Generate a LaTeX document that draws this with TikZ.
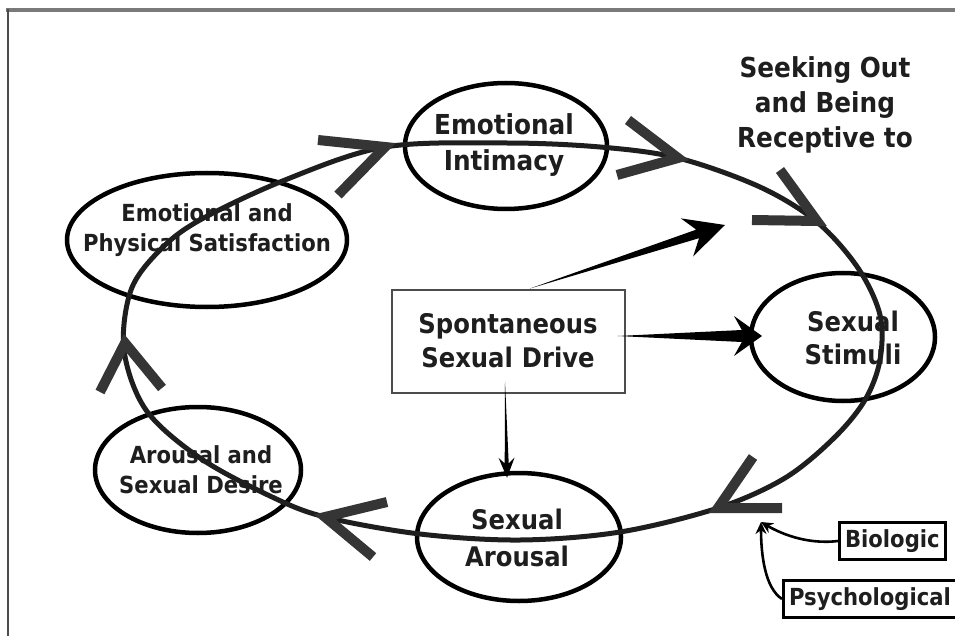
\documentclass[tikz,border=0pt]{standalone}
\usepackage{fontspec}
\setmainfont{DejaVuSansCondensed}[Extension=.ttf,BoldFont=DejaVuSansCondensed-Bold]
\usetikzlibrary{shapes.geometric,calc,arrows.meta}
\definecolor{ink}{HTML}{1E1E1E}
\definecolor{chevc}{HTML}{353535}
\definecolor{framec}{HTML}{7A7A7A}
\tikzset{
  oval/.style={ellipse,draw=black,line width=4.5,inner sep=0},
  lbl/.style 2 args={align=center,text=ink,font=\bfseries\fontsize{#1}{#2}\selectfont,inner sep=0},
  chev/.style={draw=chevc,line width=10,line cap=butt,line join=miter},
  wedge/.style={fill=black},
  factor/.style={draw=black,line width=3.2,inner xsep=5.5,inner ysep=7,anchor=west,text=ink,font=\bfseries\fontsize{23.5}{28}\selectfont},
  thinarr/.style={draw=black,line width=2.6,-{Stealth[length=12,width=11]}}
}
\newcommand\wedgearr[5]{%
  \fill[wedge] (#1) -- ($(#2)!0.72*#3!(#1)!#5!90:(#1)$) -- ($(#2)!#3!(#1)!#4!90:(#1)$) -- (#2)
   -- ($(#2)!#3!(#1)!#4!-90:(#1)$) -- ($(#2)!0.72*#3!(#1)!#5!-90:(#1)$) -- cycle;}
\begin{document}
\begin{tikzpicture}[x=1pt,y=-1pt]
\useasboundingbox (0,0) rectangle (955,636);
\fill[white] (0,0) rectangle (955,636);
% frame
\draw[framec,line width=4] (6,10) -- (955,10);
\draw[black!70,line width=2.5] (8,9) -- (8,636);

% ovals
\node[oval,minimum width=202,minimum height=126] (intimacy) at (506,146) {};
\node[oval,minimum width=280,minimum height=134] (satisf) at (207,240) {};
\node[oval,minimum width=184,minimum height=128] (stimuli) at (843,337) {};
\node[oval,minimum width=204,minimum height=128] (arousal) at (519,537) {};
\node[oval,minimum width=206,minimum height=126] (desire) at (198,470) {};

\node[lbl={27.5}{36}] (intimacyT) at (504,145) {Emotional\\Intimacy};
\node[lbl={23.5}{30}] (satisfT) at (207,230) {Emotional and\\Physical Satisfaction};
\node[lbl={27}{33}] (stimuliT) at (853,338) {Sexual\\Stimuli};
\node[lbl={27}{37}] (arousalT) at (517,538) {Sexual\\Arousal};
\node[lbl={23.5}{30}] (desireT) at (201,470) {Arousal and\\Sexual Desire};
\node[lbl={27.5}{35}] (seek) at (825,105) {Seeking Out\\and Being\\Receptive to};

% central box
\node[draw=black!70,line width=2,minimum width=233,minimum height=103,lbl={27}{34},text width=228] (drive) at (508,341) {Spontaneous\\Sexual Drive};

% factor boxes
\node[factor] (bio) at (838,541) {Biologic};
\node[factor] (psy) at (782,599) {Psychological};

% main cycle
\draw[ink,line width=5] plot[smooth cycle,tension=0.55] coordinates {
 (506,143) (600,147) (678,158) (760,187) (817,222) (858,268) (880,315) (880,360)
 (865,400) (834,438) (785,478) (718,508) (620,532) (520,540) (420,534) (325,517)
 (270,496) (200,458) (146,410) (124,350) (131,290) (160,250) (200,220) (285,180) (385,147)};

% chevrons on the cycle
\draw[chev] (318,140) -- (385,147) -- (338,195);
\draw[chev] (628,120) -- (678,158) -- (617,175);
\draw[chev] (780,170) -- (817,221) -- (752,220);
\draw[chev] (753,457) -- (718,508) -- (782,508);
\draw[chev] (387,502) -- (325,517) -- (373,557);
\draw[chev] (100,392) -- (125,343) -- (162,388);

% wedge arrows from the drive
\coordinate (ur1) at ($(drive.north)+(22,0)$);
\coordinate (ur2) at (725,225);
\coordinate (r1) at ($(drive.east)+(-8,-5)$);
\coordinate (r2) at (762,336);
\coordinate (d1) at ($(drive.south)+(-3,-12)$);
\coordinate (d2) at ($(arousal.north)+(-12,7)$);
\wedgearr{ur1}{ur2}{40pt}{20pt}{4.5pt}
\wedgearr{r1}{r2}{28pt}{20pt}{6pt}
\wedgearr{d1}{d2}{20pt}{8pt}{2pt}

% factor arrows
\coordinate (fp) at (761,522);
\draw[thinarr] (bio.west) .. controls (805,545) and (778,532) .. (fp);
\draw[thinarr] (psy.west) .. controls (765,588) and (761,555) .. (fp);
\end{tikzpicture}
\end{document}
